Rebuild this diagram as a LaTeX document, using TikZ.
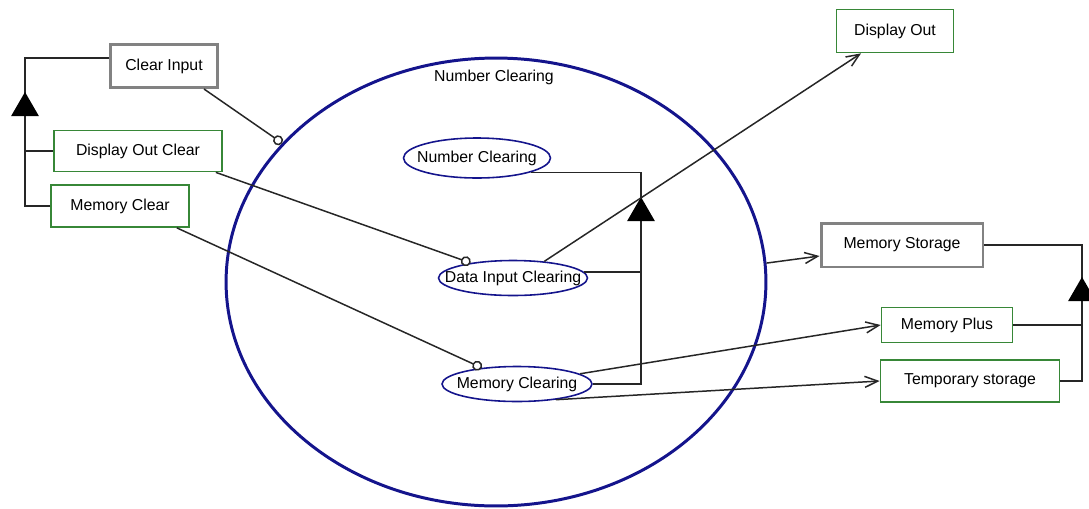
\documentclass[tikz,border=0pt]{standalone}
\usepackage{fontspec}
\setmainfont{Liberation Sans}
\usetikzlibrary{arrows.meta,calc,positioning,shapes.geometric}
\definecolor{featgreen}{RGB}{55,135,55}
\definecolor{featgray}{RGB}{130,130,130}
\definecolor{featnavy}{RGB}{20,20,140}

\begin{document}
\begin{tikzpicture}[x=0.02cm, y=-0.02cm,
  font=\fontsize{9}{11}\selectfont,
  mandbox/.style={draw=featgray, line width=1.7pt, fill=white},
  optbox/.style={draw=featgreen, line width=1pt, fill=white},
  usecase/.style={ellipse, draw=featnavy, line width=0.9pt, fill=white, inner sep=0pt},
  link/.style={line width=0.85pt, black!85},
  uses/.style={link, -{Circle[open, length=2mm, fill=white]}},
  goes/.style={link, -{Straight Barb[length=2.6mm, width=2.2mm]}},
  orgroup/.style={regular polygon, regular polygon sides=3, fill=black, inner sep=0pt, minimum size=0.64cm}]
  \useasboundingbox (0,0) rectangle (1089,508);

  % Feature boundary
  \node[ellipse, draw=featnavy, line width=1.7pt, minimum width=10.8cm, minimum height=8.96cm] (numset) at (496,282) {};
  \node (title) at (494,77) {Number Clearing};

  % Left features
  \node[mandbox, minimum width=2.14cm, minimum height=0.86cm] (clrin) at (164,66) {Clear Input};
  \node[optbox, minimum width=3.36cm, minimum height=0.82cm] (doclr) at (138,151) {Display Out Clear};
  \node[optbox, minimum width=2.76cm, minimum height=0.84cm] (memclr) at (120,206) {Memory Clear};

  % Use cases
  \node[usecase, minimum width=2.94cm, minimum height=0.8cm, label=center:{Number Clearing}] (numclr) at (477,158) {};
  \node[usecase, minimum width=2.98cm, minimum height=0.7cm, label=center:{Data Input Clearing}] (datain) at (513,278) {};
  \node[usecase, minimum width=3.0cm, minimum height=0.7cm, label=center:{Memory Clearing}] (memcl) at (517,384) {};

  % Right features
  \node[optbox, minimum width=2.34cm, minimum height=0.86cm] (dispout) at (895,31) {Display Out};
  \node[mandbox, minimum width=3.24cm, minimum height=0.88cm] (memst) at (902,245) {Memory Storage};
  \node[optbox, minimum width=2.62cm, minimum height=0.7cm] (memplus) at (947,325) {Memory Plus};
  \node[optbox, minimum width=3.58cm, minimum height=0.84cm] (tmpst) at (970,381) {Temporary storage};

  % Group bars
  \coordinate (lbar) at (25,108);
  \coordinate (mbar) at (641,213);
  \coordinate (rbar) at (1082,293);

  \draw[link] ([yshift=0.16cm]clrin.west) -| (lbar);
  \draw[link] (doclr.west) -| (lbar);
  \draw[link] (memclr.west) -| (lbar);

  \draw[link] (numclr.-15) -| (mbar);
  \draw[link] (datain.5) -| (mbar);
  \draw[link] (memcl.east) -| (mbar);

  \draw[link] (memst.east) -| (rbar);
  \draw[link] (memplus.east) -| (rbar);
  \draw[link] (tmpst.east) -| (rbar);

  \node[orgroup] (lgrp) at (lbar) {};
  \node[orgroup] (mgrp) at (mbar) {};
  \node[orgroup] (rgrp) at (rbar) {};

  % Requires
  \draw[uses] ([xshift=-0.3cm]clrin.south east) -- (numset.147);
  \draw[uses] ([xshift=-0.14cm]doclr.south east) -- (datain);
  \draw[uses] ([xshift=-0.26cm]memclr.south east) -- (memcl);

  % Leads to
  \draw[goes] (datain.28) -- (dispout);
  \draw[goes] (numset.4) -- (memst);
  \draw[goes] (memcl) -- (memplus.west);
  \draw[goes] (memcl.-22) -- (tmpst.west);
\end{tikzpicture}
\end{document}
